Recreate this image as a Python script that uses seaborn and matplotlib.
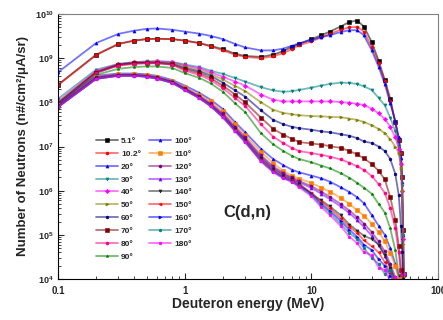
import matplotlib
matplotlib.use('Agg')
import pandas as pd
import seaborn as sns
import matplotlib.pyplot as plt
from matplotlib.colors import to_rgba
from matplotlib.ticker import NullFormatter

# energia do deuteron (MeV)
energy = [0.1, 0.2, 0.3, 0.4, 0.5, 0.6, 0.8, 1.0, 1.3, 1.6, 2.0, 2.5, 3.0, 4.0, 5.0, 6.0, 7.0, 8.0,
          10, 12, 14, 17, 20, 23, 26, 30, 34, 38, 42, 46, 49, 51, 52, 53, 53.5]

# espectros por angulo
n_5_1 = [2.5e8, 1.2e9, 2.1e9, 2.5e9, 2.7e9, 2.75e9, 2.7e9, 2.5e9, 2.2e9, 1.9e9, 1.6e9, 1.26e9, 1.12e9, 1.07e9,
         1.2e9, 1.45e9, 1.8e9, 2.1e9, 2.7e9, 3.3e9, 4.0e9, 5.2e9, 6.6e9, 7.1e9, 5.2e9, 2.3e9, 8.7e8, 3.2e8,
         1.2e8, 3.5e7, 1.4e7, 7.1e6, 2.0e6, 1.3e5, 1.3e4]
n_10_2 = [2.45e8, 1.17e9, 2.1e9, 2.5e9, 2.7e9, 2.75e9, 2.7e9, 2.5e9, 2.2e9, 1.85e9, 1.5e9, 1.2e9, 1.07e9, 1.0e9,
          1.1e9, 1.3e9, 1.6e9, 1.95e9, 2.4e9, 2.95e9, 3.55e9, 4.4e9, 5.0e9, 5.1e9, 4.0e9, 1.8e9, 7.6e8, 3.0e8,
          1.07e8, 3.5e7, 1.4e7, 7.1e6, 2.0e6, 1.3e5, 1.3e4]
n_20 = [4.8e8, 2.2e9, 3.55e9, 4.2e9, 4.6e9, 4.7e9, 4.4e9, 4.0e9, 3.6e9, 3.2e9, 2.7e9, 2.1e9, 1.75e9, 1.5e9,
        1.5e9, 1.65e9, 1.9e9, 2.15e9, 2.6e9, 3.0e9, 3.3e9, 3.9e9, 4.3e9, 4.3e9, 3.3e9, 1.5e9, 6.3e8, 2.6e8,
        9.5e7, 3.8e7, 1.6e7, 5.6e6, 1.6e6, 1.0e5, 1.3e4]
n_30 = [1.2e8, 5.5e8, 7.4e8, 8.1e8, 8.5e8, 8.5e8, 8.3e8, 7.2e8, 6.3e8, 5.2e8, 4.4e8, 3.55e8, 2.95e8, 2.2e8,
        1.86e8, 1.74e8, 1.78e8, 1.9e8, 2.15e8, 2.4e8, 2.6e8, 2.8e8, 2.75e8, 2.6e8, 2.3e8, 1.9e8, 1.26e8, 8.5e7,
        4.5e7, 2.2e7, 1.0e7, 4.0e6, 1.26e6, 1.0e5, 1.3e4]
n_40 = [1.05e8, 5.1e8, 7.4e8, 8.1e8, 8.3e8, 8.5e8, 8.1e8, 6.9e8, 5.9e8, 4.8e8, 3.8e8, 2.95e8, 2.4e8, 1.5e8,
        1.15e8, 1.05e8, 1.05e8, 1.05e8, 1.05e8, 1.05e8, 1.05e8, 1.02e8, 9.8e7, 9.3e7, 8.7e7, 7.2e7, 5.6e7, 4.2e7,
        2.8e7, 1.6e7, 8.9e6, 4.0e6, 1.0e6, 7.9e4, 1.3e4]
n_50 = [1.0e8, 4.9e8, 7.2e8, 7.9e8, 8.1e8, 8.1e8, 7.8e8, 6.5e8, 5.4e8, 4.4e8, 3.3e8, 2.35e8, 1.8e8, 1.0e8,
        6.8e7, 5.75e7, 5.4e7, 5.1e7, 4.9e7, 4.8e7, 4.7e7, 4.6e7, 4.3e7, 4.0e7, 3.6e7, 3.0e7, 2.5e7, 2.0e7,
        1.45e7, 1.0e7, 7.1e6, 3.2e6, 1.0e6, 6.3e4, 1.1e4]
n_60 = [9.5e7, 4.8e8, 7.1e8, 7.8e8, 7.9e8, 7.9e8, 7.4e8, 6.0e8, 5.0e8, 4.0e8, 2.8e8, 1.86e8, 1.35e8, 6.6e7,
        4.0e7, 3.2e7, 2.8e7, 2.6e7, 2.4e7, 2.2e7, 2.1e7, 1.9e7, 1.75e7, 1.55e7, 1.3e7, 1.2e7, 1.0e7, 7.9e6,
        5.2e6, 2.4e6, 7.9e5, 1.6e5, 4.0e4, 1.0e4, 6.3e3]
n_70 = [9.3e7, 4.7e8, 6.9e8, 7.6e8, 7.8e8, 7.8e8, 7.2e8, 5.6e8, 4.6e8, 3.55e8, 2.4e8, 1.5e8, 1.0e8, 4.5e7,
        2.5e7, 1.86e7, 1.5e7, 1.26e7, 1.17e7, 1.1e7, 1.02e7, 9.3e6, 7.9e6, 6.6e6, 5.4e6, 4.0e6, 2.8e6, 1.8e6,
        7.1e5, 2.2e5, 5.6e4, 1.6e4, 7.9e3, 6.0e3, 5.0e3]
n_80 = [9.1e7, 4.6e8, 6.8e8, 7.4e8, 7.6e8, 7.6e8, 7.1e8, 5.2e8, 4.2e8, 3.2e8, 2.1e8, 1.26e8, 8.3e7, 3.2e7,
        1.66e7, 1.2e7, 9.3e6, 7.9e6, 7.1e6, 6.5e6, 5.9e6, 5.1e6, 4.3e6, 3.55e6, 2.95e6, 2.15e6, 1.4e6, 8.9e5,
        4.0e5, 1.4e5, 4.0e4, 1.26e4, 7.9e3, 6.3e3, 5.0e3]
n_90 = [8.9e7, 4.2e8, 5.75e8, 6.3e8, 6.5e8, 6.5e8, 6.0e8, 4.6e8, 3.6e8, 2.7e8, 1.74e8, 9.5e7, 6.0e7, 2.0e7,
        1.12e7, 7.9e6, 6.2e6, 5.2e6, 4.4e6, 3.7e6, 3.2e6, 2.5e6, 1.95e6, 1.5e6, 1.17e6, 8.5e5, 5.0e5, 3.2e5,
        1.4e5, 4.5e4, 1.26e4, 7.0e3, 5.0e3, 4.0e3, 3.0e3]
n_100 = [8.9e7, 4.0e8, 4.5e8, 4.5e8, 4.3e8, 4.0e8, 3.2e8, 2.4e8, 1.66e8, 1.15e8, 7.1e7, 3.55e7, 2.1e7, 8.9e6,
         5.2e6, 3.8e6, 3.0e6, 2.6e6, 2.2e6, 1.9e6, 1.6e6, 1.2e6, 9.3e5, 7.1e5, 5.2e5, 2.8e5, 1.6e5, 1.0e5,
         5.0e4, 2.2e4, 1.1e4, 6.0e3, 5.0e3, 4.0e3, 3.0e3]
n_110 = [8.5e7, 3.8e8, 4.3e8, 4.3e8, 4.1e8, 3.8e8, 3.0e8, 2.2e8, 1.5e8, 1.05e8, 6.3e7, 3.2e7, 1.8e7, 7.6e6,
         4.2e6, 2.8e6, 2.2e6, 1.86e6, 1.5e6, 1.17e6, 9.5e5, 6.9e5, 5.0e5, 3.6e5, 2.7e5, 1.8e5, 1.15e5, 7.1e4,
         3.8e4, 2.0e4, 1.0e4, 6.0e3, 5.0e3, 4.0e3, 3.0e3]
n_120 = [8.3e7, 3.7e8, 4.2e8, 4.2e8, 4.0e8, 3.7e8, 2.95e8, 2.1e8, 1.4e8, 9.5e7, 5.6e7, 2.8e7, 1.6e7, 6.3e6,
         3.55e6, 2.5e6, 2.0e6, 1.66e6, 1.26e6, 9.5e5, 7.2e5, 5.0e5, 3.55e5, 2.5e5, 1.8e5, 1.15e5, 7.1e4, 4.2e4,
         2.2e4, 1.1e4, 6.0e3, 5.0e3, 4.0e3, 3.0e3, 3.0e3]
n_130 = [8.2e7, 3.6e8, 4.15e8, 4.15e8, 3.95e8, 3.6e8, 2.9e8, 2.05e8, 1.35e8, 9.0e7, 5.3e7, 2.6e7, 1.5e7, 5.8e6,
         3.3e6, 2.35e6, 1.9e6, 1.55e6, 1.15e6, 8.5e5, 6.4e5, 4.4e5, 3.1e5, 2.15e5, 1.5e5, 9.5e4, 5.8e4, 3.4e4,
         1.8e4, 9.0e3, 5.0e3, 4.0e3, 3.0e3, 3.0e3, 2.0e3]
n_140 = [8.0e7, 3.5e8, 4.1e8, 4.1e8, 3.9e8, 3.55e8, 2.85e8, 2.0e8, 1.3e8, 8.7e7, 5.0e7, 2.45e7, 1.4e7, 5.4e6,
         3.1e6, 2.2e6, 1.8e6, 1.45e6, 8.5e5, 6.0e5, 4.4e5, 2.8e5, 1.7e5, 1.25e5, 9.5e4, 8.0e4, 6.0e4, 3.5e4,
         1.8e4, 9.0e3, 5.0e3, 4.0e3, 3.0e3, 3.0e3, 2.0e3]
n_150 = [7.9e7, 3.45e8, 4.05e8, 4.05e8, 3.85e8, 3.5e8, 2.8e8, 1.95e8, 1.28e8, 8.5e7, 4.8e7, 2.35e7, 1.33e7, 5.0e6,
         2.85e6, 2.05e6, 1.7e6, 1.35e6, 9.0e5, 5.5e5, 4.0e5, 2.4e5, 1.5e5, 1.1e5, 7.5e4, 5.5e4, 4.0e4, 2.4e4,
         1.4e4, 8.0e3, 5.0e3, 4.0e3, 3.0e3, 3.0e3, 2.0e3]
n_160 = [7.85e7, 3.4e8, 4.0e8, 4.0e8, 3.8e8, 3.45e8, 2.78e8, 1.92e8, 1.26e8, 8.3e7, 4.7e7, 2.3e7, 1.3e7, 4.8e6,
         2.75e6, 2.0e6, 1.65e6, 1.3e6, 8.5e5, 5.0e5, 3.5e5, 2.1e5, 1.3e5, 9.0e4, 6.0e4, 4.5e4, 2.8e4, 2.0e4,
         1.2e4, 7.0e3, 5.0e3, 4.0e3, 3.0e3, 3.0e3, 2.0e3]
n_170 = [7.8e7, 3.4e8, 4.0e8, 3.95e8, 3.8e8, 3.45e8, 2.75e8, 1.9e8, 1.25e8, 8.2e7, 4.6e7, 2.25e7, 1.28e7, 4.7e6,
         2.7e6, 1.95e6, 1.6e6, 1.25e6, 8.0e5, 4.6e5, 3.2e5, 1.8e5, 1.1e5, 8.0e4, 5.0e4, 3.0e4, 2.2e4, 1.3e4,
         1.6e4, 6.0e3, 5.0e3, 4.0e3, 3.0e3, 3.0e3, 2.0e3]
n_180 = [7.8e7, 3.4e8, 4.0e8, 4.0e8, 3.8e8, 3.45e8, 2.75e8, 1.9e8, 1.25e8, 8.2e7, 4.6e7, 2.2e7, 1.25e7, 4.6e6,
         2.6e6, 1.9e6, 1.6e6, 1.2e6, 7.5e5, 4.2e5, 2.8e5, 1.6e5, 9.0e4, 6.5e4, 4.0e4, 3.5e4, 1.8e4, 1.6e4,
         9.0e3, 1.1e4, 7.0e3, 5.0e3, 4.0e3, 3.0e3, 2.0e3]

angles = ['5.1°', '10.2°', '20°', '30°', '40°', '50°', '60°', '70°', '80°', '90°',
          '100°', '110°', '120°', '130°', '140°', '150°', '160°', '170°', '180°']
series = [n_5_1, n_10_2, n_20, n_30, n_40, n_50, n_60, n_70, n_80, n_90,
          n_100, n_110, n_120, n_130, n_140, n_150, n_160, n_170, n_180]
colors = ['#000000', '#ff0000', '#0000ff', '#008080', '#ff00ff', '#808000', '#000080', '#800000', '#ff0080',
          '#008000', '#0000ff', '#ff8000', '#800080', '#8000ff', '#202020', '#ff0000', '#0000ff', '#008080', '#ff00ff']
markers = ['s', 'o', '^', 'v', 'D', '>', 'h', 's', 'o', '*', '^', 's', 'o', '^', 'v', '<', '>', 'h', 'p']

sns.set_style('ticks')
plt.rcParams['font.family'] = ['Liberation Sans', 'DejaVu Sans']
plt.rcParams['font.weight'] = 'bold'
plt.rcParams['mathtext.default'] = 'bf'

fig = plt.figure(figsize=(4.43, 3.2), dpi=100)
ax = fig.add_axes([58 / 443, 41 / 320, 380 / 443, 265 / 320])
ax.set_xscale('log')
ax.set_yscale('log')

for lab, vals, c, m in zip(angles, series, colors, markers):
    df = pd.DataFrame({'E': energy, 'N': vals})
    sns.lineplot(data=df, x='E', y='N', ax=ax, estimator=None, sort=False,
                 color=to_rgba(c, 0.55), lw=1.3, marker=m, markersize=2.2,
                 markerfacecolor=c, markeredgecolor=c, markeredgewidth=0.4, label=lab)

ax.set_xlim(0.1, 100)
ax.set_ylim(1e4, 1e10)
ax.set_xticks([0.1, 1, 10, 100], ['0.1', '1', '10', '100'])
ax.xaxis.set_minor_formatter(NullFormatter())
ax.tick_params(axis='both', which='both', direction='in', top=False, right=False)
ax.tick_params(axis='both', which='major', length=4, width=0.8)
ax.tick_params(axis='both', which='minor', length=2, width=0.6)
ax.tick_params(axis='x', labelsize=7, pad=5)
ax.tick_params(axis='y', labelsize=6.5, pad=3)

for side in ['top', 'right']:
    ax.spines[side].set_color('#808080')
for side in ['left', 'bottom']:
    ax.spines[side].set_color('black')

ax.set_xlabel('Deuteron energy (MeV)', fontsize=10, fontweight='bold', labelpad=1)
ax.set_ylabel('Number of Neutrons (n#/cm²/μA/sr)', fontsize=9.5, fontweight='bold', labelpad=4)

ax.legend(loc='upper left', bbox_to_anchor=(0.1, 0.535), ncol=2, frameon=False, fontsize=6,
          handlelength=2.6, labelspacing=0.6, columnspacing=1.0, handletextpad=0.4,
          borderpad=0, borderaxespad=0)

ax.text(0.434, 0.25, 'C(d,n)', transform=ax.transAxes, fontsize=12, fontweight='bold', va='center')

fig.savefig('out.png', dpi=100)
